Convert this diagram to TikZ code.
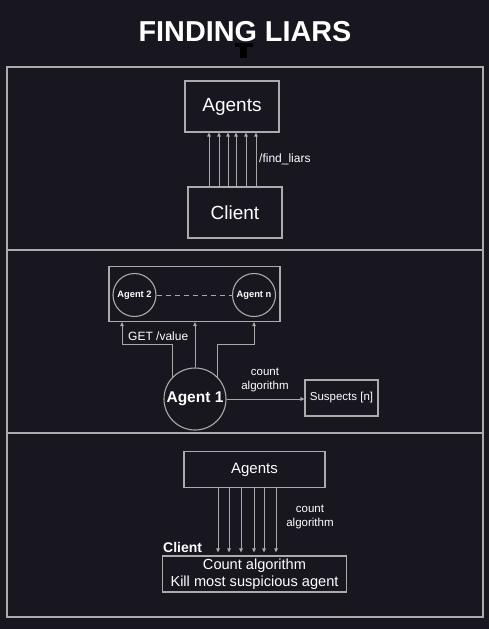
\documentclass[tikz,border=0pt]{standalone}
\usepackage{fontspec}
\setmainfont{Liberation Sans}
\usetikzlibrary{arrows.meta,calc}
\definecolor{bg}{HTML}{18161F}
\definecolor{ln}{HTML}{ABABAB}
\definecolor{ar}{HTML}{A8A8A8}
\definecolor{pin}{HTML}{3A4755}
\tikzset{
  box/.style={draw=ln,line width=1.1pt,inner sep=0pt,text=white},
  circ/.style={draw=ln,line width=1.1pt,circle,inner sep=0pt,text=white},
  arr/.style={draw=ar,line width=0.9pt,-{Triangle[length=4pt,width=3.5pt]}},
  lbl/.style={text=white,inner sep=0pt,align=center},
  frame/.style={draw=ln,line width=1.3pt}
}
\begin{document}
\begin{tikzpicture}[x=1pt,y=-1pt]
\fill[bg] (0,0) rectangle (489,629);
\useasboundingbox (0,0) rectangle (489,629);
% title
\node[lbl,font=\bfseries\fontsize{28.8}{32}\selectfont] (title) at (245,32) {FINDING LIARS};
\fill[pin] (235,43) rectangle (253,47);
\fill[pin] (240,47) rectangle (247,58);
% frame
\draw[frame] (7,67) rectangle (483,617);
\coordinate (d1l) at (7,250); \coordinate (d1r) at (483,250);
\coordinate (d2l) at (7,433); \coordinate (d2r) at (483,433);
\draw[frame] (d1l) -- (d1r);
\draw[frame] (d2l) -- (d2r);
% section 1
\node[box,minimum width=94pt,minimum height=51pt,font=\fontsize{19}{21}\selectfont] (agents) at (232,106.5) {Agents};
\node[box,minimum width=94pt,minimum height=51pt,font=\fontsize{19}{21}\selectfont] (client) at (235,212.5) {Client};
\foreach \x in {209,219,228,236,246,256}
  \draw[arr] (client.north -| \x,0) -- (agents.south -| \x,0);
\node[lbl,anchor=west,font=\fontsize{12}{14}\selectfont] (fl) at (259,159) {/find\_liars};
% section 2
\node[box,minimum width=171pt,minimum height=55pt] (grp) at (194.5,294) {};
\node[circ,minimum size=43pt,font=\bfseries\fontsize{9.3}{11}\selectfont] (a2) at (134.5,295) {Agent 2};
\node[circ,minimum size=43pt,font=\bfseries\fontsize{9.3}{11}\selectfont] (an) at (254,295) {Agent n};
\draw[ar,line width=0.9pt,dash pattern=on 5pt off 4pt] (a2) -- (an);
\node[circ,minimum size=62pt,font=\bfseries\fontsize{15.5}{18}\selectfont] (a1) at (195,399) {Agent 1};
\coordinate (kl) at (122,344);
\coordinate (kr) at (254,344);
\draw[arr] (a1.135) |- (kl) -- (kl |- grp.south);
\draw[arr] (a1.north) -- (a1.north |- grp.south);
\draw[arr] (a1.45) |- (kr) -- (an |- grp.south);
\node[lbl,anchor=west,font=\fontsize{12}{14}\selectfont] (get) at (128,336) {GET /value};
\node[box,minimum width=73pt,minimum height=36pt,font=\fontsize{11.5}{13}\selectfont] (sus) at (341.5,398) {Suspects [n]};
\draw[arr] (a1.east) -- (a1.east -| sus.west);
\node[lbl,font=\fontsize{11.5}{13.5}\selectfont] (ca1) at (265,380) {count\\algorithm};
% section 3
\node[box,minimum width=141pt,minimum height=36pt,font=\fontsize{15}{17}\selectfont] (ag3) at (254.5,469.5) {Agents};
\node[box,minimum width=184pt,minimum height=36pt,font=\fontsize{14.6}{16.5}\selectfont,align=center] (cl3) at (254.5,574) {Count algorithm\\Kill most suspicious agent};
\foreach \x in {218,229,241,254,264,276}
  \draw[arr] (ag3.south -| \x,0) -- ([yshift=3pt]cl3.north -| \x,0);
\node[lbl,anchor=south west,font=\bfseries\fontsize{14}{16}\selectfont] (cl3t) at (163,553) {Client};
\node[lbl,font=\fontsize{11.5}{13.5}\selectfont] (ca2) at (310,517) {count\\algorithm};
\end{tikzpicture}
\end{document}
